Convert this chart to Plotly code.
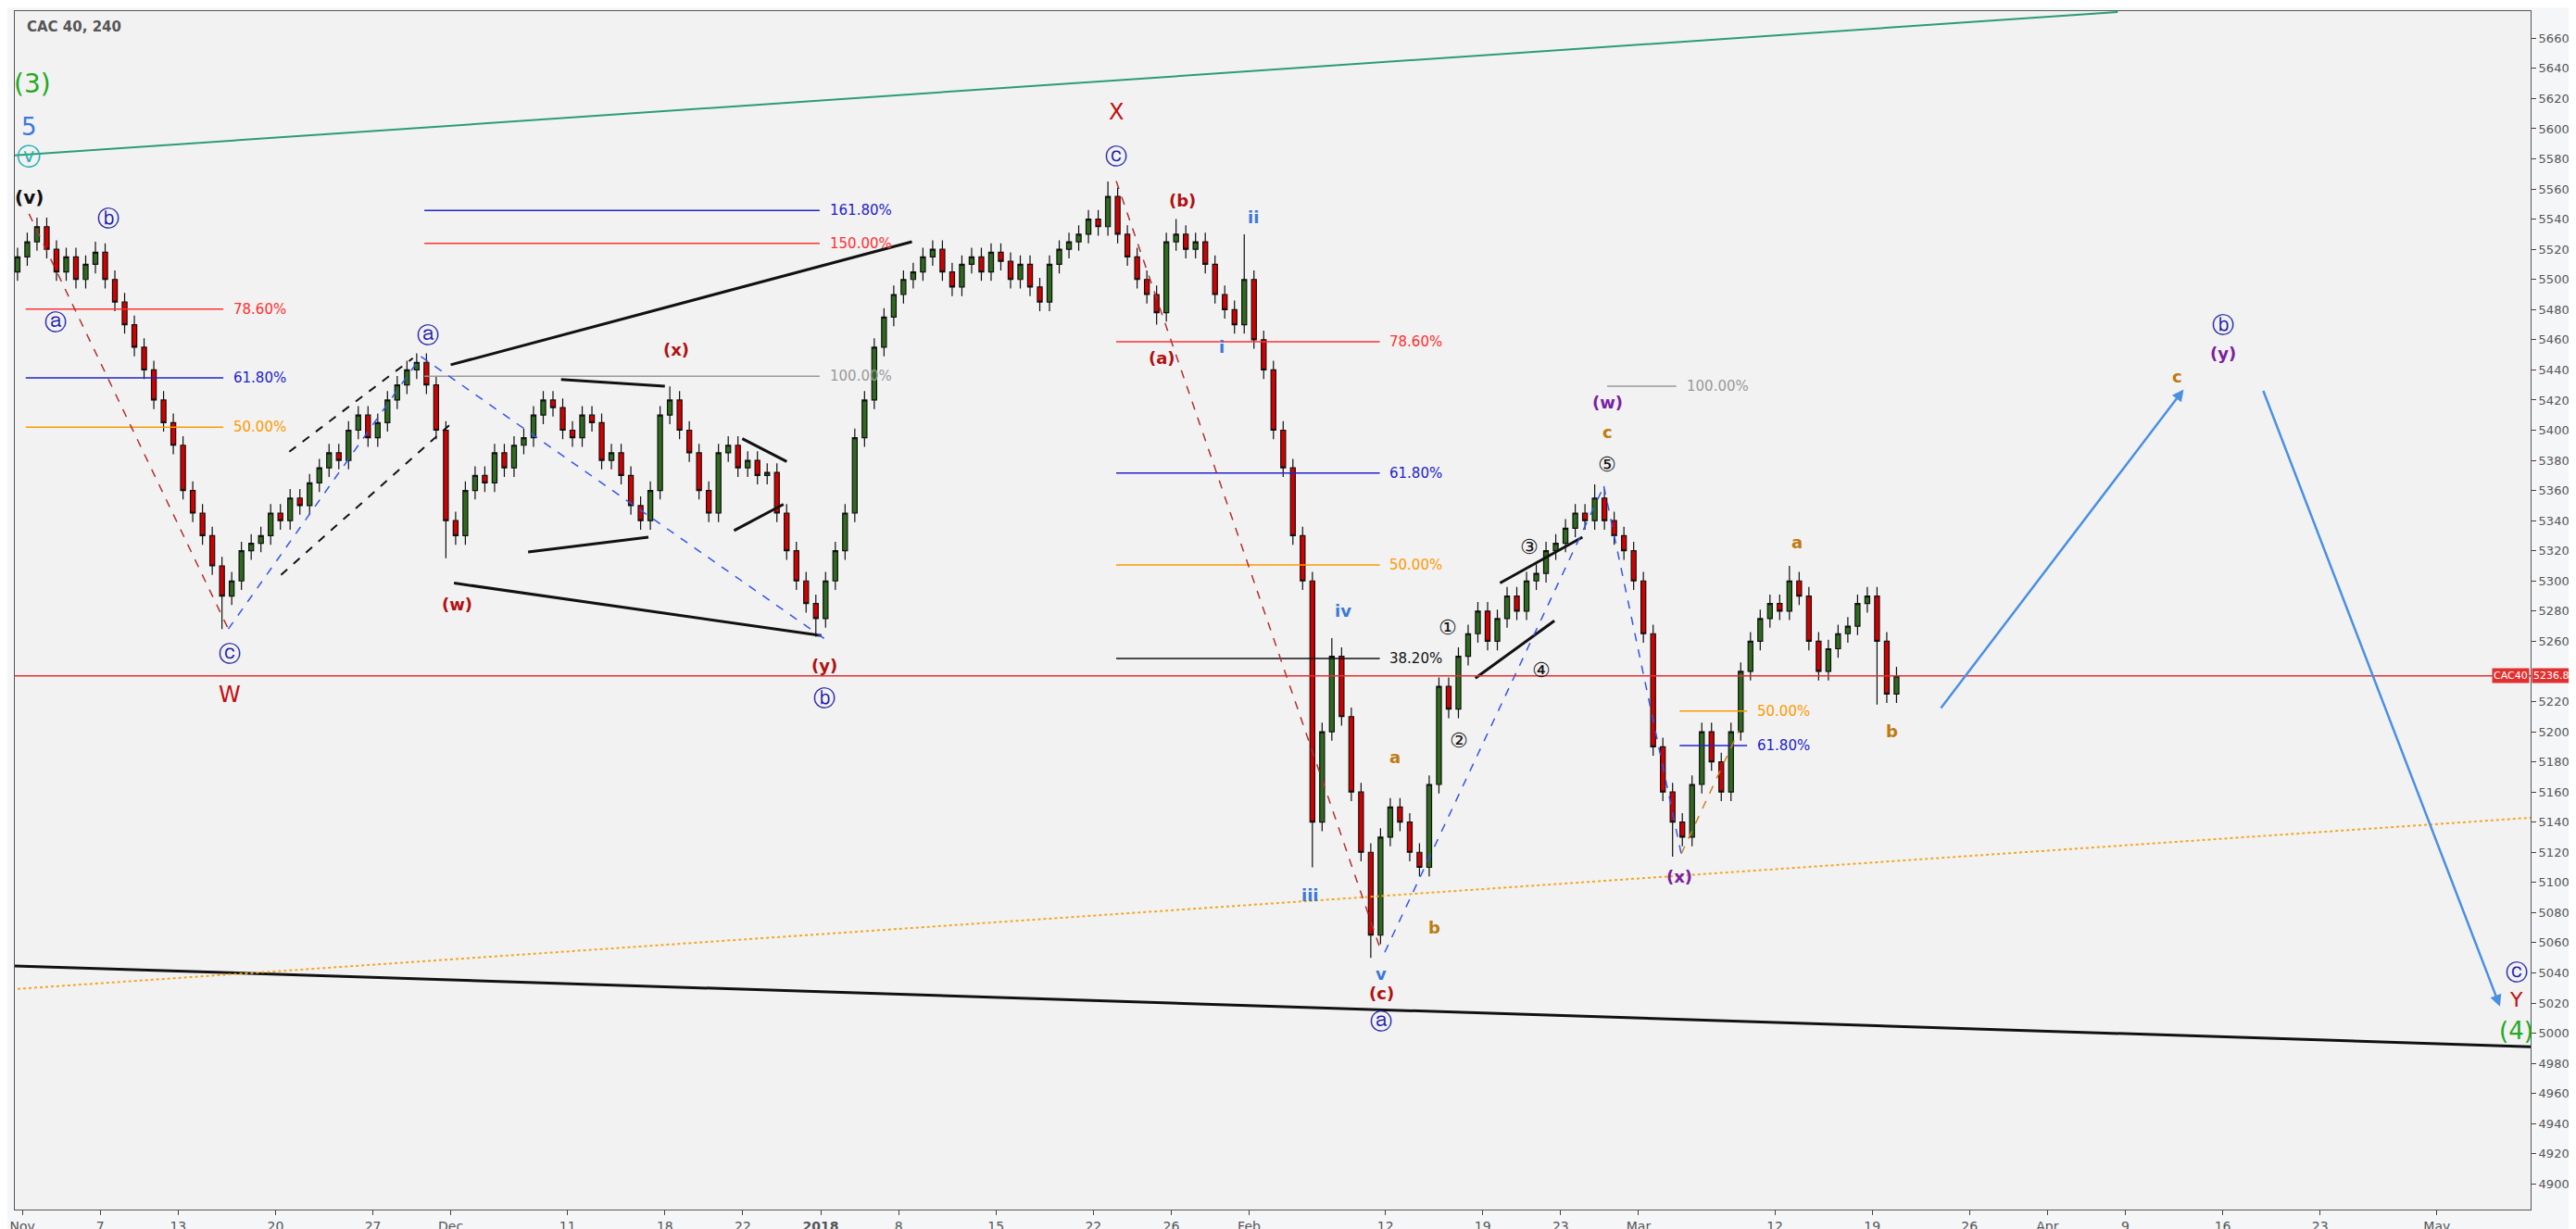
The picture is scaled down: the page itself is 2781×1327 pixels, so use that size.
import pandas as pd
import plotly.graph_objects as go

# closes, two 4h candles per trading day (Nov 1 2017 .. Mar 20 2018)
closes = [
    5515, 5525, 5535, 5520, 5505, 5515, 5500, 5510, 5518, 5500,
    5485, 5470, 5455, 5440, 5420, 5405, 5390, 5360, 5345, 5330,
    5310, 5290, 5300, 5320, 5325, 5330, 5345, 5340, 5355, 5350,
    5365, 5375, 5385, 5380, 5400, 5410, 5395, 5405, 5420, 5430,
    5440, 5445, 5430, 5400, 5340, 5330, 5360, 5370, 5365, 5385,
    5375, 5390, 5395, 5410, 5420, 5415, 5400, 5395, 5410, 5405,
    5380, 5385, 5370, 5350, 5340, 5360, 5410, 5420, 5400, 5385,
    5360, 5345, 5385, 5390, 5375, 5380, 5370, 5372, 5345, 5320,
    5300, 5285, 5275, 5300, 5320, 5345, 5395, 5420, 5455, 5475,
    5490, 5500, 5505, 5515, 5520, 5505, 5495, 5510, 5515, 5505,
    5518, 5512, 5500, 5510, 5495, 5485, 5510, 5520, 5525, 5530,
    5540, 5535, 5555, 5530, 5515, 5500, 5490, 5478, 5525, 5530,
    5520, 5525, 5510, 5490, 5480, 5470, 5500, 5460, 5440, 5400,
    5375, 5330, 5300, 5140, 5200, 5250, 5210, 5160, 5120, 5065,
    5130, 5150, 5140, 5120, 5110, 5165, 5230, 5215, 5250, 5265,
    5280, 5260, 5275, 5290, 5280, 5300, 5305, 5320, 5325, 5335,
    5345, 5340, 5355, 5340, 5330, 5320, 5300, 5265, 5190, 5160,
    5140, 5130, 5165, 5200, 5180, 5160, 5200, 5240, 5260, 5275,
    5285, 5280, 5300, 5290, 5260, 5240, 5255, 5265, 5270, 5285,
    5290, 5260, 5225, 5237,
]
first_open = 5505
# wick extremes (bar index -> price)
spike_highs = {8: 5525, 41: 5451, 67: 5429, 112: 5565, 119: 5540, 126: 5530,
               135: 5262, 162: 5364, 182: 5310}
spike_lows = {21: 5268, 44: 5315, 82: 5263, 117: 5470, 133: 5110, 139: 5050,
              170: 5117, 191: 5218}

holidays = ["2017-12-25", "2017-12-26", "2018-01-01", "2018-03-30", "2018-04-02", "2018-05-01"]
days = [d for d in pd.bdate_range("2017-11-01", "2018-05-31") if d.strftime("%Y-%m-%d") not in holidays]
day_idx = {d.strftime("%Y-%m-%d"): i for i, d in enumerate(days)}

tick_dates = ["2017-11-01", "2017-11-07", "2017-11-13", "2017-11-20", "2017-11-27", "2017-12-01",
              "2017-12-11", "2017-12-18", "2017-12-22", "2018-01-02", "2018-01-08", "2018-01-15",
              "2018-01-22", "2018-01-26", "2018-02-01", "2018-02-12", "2018-02-19", "2018-02-23",
              "2018-03-01", "2018-03-12", "2018-03-19", "2018-03-26", "2018-04-03", "2018-04-09",
              "2018-04-16", "2018-04-23", "2018-05-02"]
tick_text = ["Nov", "7", "13", "20", "27", "Dec", "11", "18", "22", "<b>2018</b>", "8", "15", "22", "26",
             "Feb", "12", "19", "23", "Mar", "12", "19", "26", "Apr", "9", "16", "23", "May"]

# price axis labels; the level under the last-price tag is left out, as in the reference
price_ticks = [p for p in range(4900, 5661, 20) if p != 5240]

opens = [first_open] + closes[:-1]
highs, lows, xs = [], [], []
for i, (o, c) in enumerate(zip(opens, closes)):
    highs.append(spike_highs.get(i, max(o, c) + 6))
    lows.append(spike_lows.get(i, min(o, c) - 6))
    xs.append(i // 2 - 0.25 + 0.5 * (i % 2))


# helpers: positions read in the reference thumbnail -> chart coordinates
def dx(xt):
    return (xt - 8) / 11.82


def py(yt):
    return 5660 - (yt - 18) * 1.0886


fig = go.Figure()
fig.add_trace(go.Candlestick(
    x=xs, open=opens, high=highs, low=lows, close=closes,
    increasing=dict(fillcolor="#2f6b1e", line=dict(color="#111111", width=1.2)),
    decreasing=dict(fillcolor="#d40000", line=dict(color="#111111", width=1.2)),
    whiskerwidth=0, showlegend=False, hoverinfo="skip"))


def seg(x0, y0, x1, y1, color, width=2, dash="solid"):
    fig.add_shape(type="line", x0=dx(x0), y0=py(y0), x1=dx(x1), y1=py(y1),
                  line=dict(color=color, width=width, dash=dash))


def txt(xt, yt, s, color, size=20, bold=False):
    fig.add_annotation(x=dx(xt), y=py(yt), text=f"<b>{s}</b>" if bold else s, showarrow=False,
                       font=dict(color=color, size=size, family="DejaVu Sans"))


# trendlines
seg(-5, 90, 1280, 2, "#2a9d74", 2)
seg(-5, 583, 1545, 633, "#111111", 3)
seg(-5, 598, 1545, 492, "#f5a623", 2, "dot")

# fib levels: (x0, x1, yt, label, color)
fibs = [
    (10, 130, 183, "78.60%", "#ff3030"), (10, 130, 225, "61.80%", "#2222cc"), (10, 130, 255, "50.00%", "#ff9900"),
    (252, 492, 123, "161.80%", "#2222cc"), (252, 492, 143, "150.00%", "#ff3030"), (252, 492, 224, "100.00%", "#999999"),
    (672, 832, 203, "78.60%", "#ff3030"), (672, 832, 283, "61.80%", "#2222cc"), (672, 832, 339, "50.00%", "#ff9900"),
    (672, 832, 396, "38.20%", "#111111"),
    (970, 1012, 230, "100.00%", "#999999"), (1014, 1055, 428, "50.00%", "#ff9900"), (1014, 1055, 449, "61.80%", "#2222cc"),
]
for x0, x1, yt, lab, col in fibs:
    seg(x0, yt, x1, yt, col, 1.5)
    fig.add_annotation(x=dx(x1 + 5), y=py(yt), text=lab, showarrow=False, xanchor="left",
                       font=dict(color=col, size=15, family="DejaVu Sans"))

# wave drawings
black = "#111111"
seg(170, 270, 245, 213, black, 2, "dash")
seg(165, 345, 268, 253, black, 2, "dash")
seg(268, 217, 548, 142, black, 3)
seg(270, 350, 493, 382, black, 3)
seg(335, 226, 398, 230, black, 3)
seg(315, 331, 388, 322, black, 3)
seg(445, 262, 472, 276, black, 3)
seg(440, 318, 470, 302, black, 3)
seg(905, 350, 955, 322, black, 3)
seg(890, 408, 938, 373, black, 3)
seg(133, 378, 250, 212, "#3355ee", 1.5, "dash")
seg(250, 212, 495, 384, "#3355ee", 1.5, "dash")
seg(835, 575, 968, 291, "#3355ee", 1.5, "dash")
seg(968, 291, 1015, 515, "#3355ee", 1.5, "dash")
seg(12, 125, 133, 378, "#b03030", 1.5, "dash")
seg(672, 105, 833, 575, "#b03030", 1.5, "dash")
seg(1015, 515, 1050, 440, "#d08020", 1.5, "dash")

for x0, y0, x1, y1 in [(1172, 427, 1320, 232), (1368, 232, 1512, 608)]:
    fig.add_annotation(x=dx(x1), y=py(y1), ax=dx(x0), ay=py(y0), xref="x", yref="y", axref="x", ayref="y",
                       showarrow=True, arrowhead=2, arrowsize=1, arrowwidth=2.5, arrowcolor="#4a90e2", text="")

# last price line
fig.add_hline(y=closes[-1], line=dict(color="#e03030", width=1.5))
fig.add_annotation(x=1, xref="paper", y=closes[-1], text="5236.8", showarrow=False, xanchor="left",
                   bgcolor="#e03030", font=dict(color="white", size=11), xshift=1)
fig.add_annotation(x=1, xref="paper", y=closes[-1], text="CAC40", showarrow=False, xanchor="right",
                   bgcolor="#e03030", font=dict(color="white", size=11), xshift=-1)

navy, dred, purple, brown, blue = "#1a1aa8", "#b01010", "#7a1fa2", "#c07a10", "#3d78d8"
labels = [
    (14, 46, "(3)", "#22aa22", 28, False), (12, 72, "5", blue, 26, False), (12, 90, "ⓥ", "#20b0b0", 26, False),
    (12, 115, "(v)", black, 20, True), (28, 191, "ⓐ", navy, 24, False), (60, 128, "ⓑ", navy, 24, False),
    (134, 393, "ⓒ", navy, 24, False), (134, 418, "W", "#c01010", 24, False), (254, 199, "ⓐ", navy, 24, False),
    (272, 363, "(w)", dred, 18, True), (405, 208, "(x)", dred, 18, True), (495, 400, "(y)", dred, 18, True),
    (495, 420, "ⓑ", navy, 24, False), (672, 63, "X", "#c01010", 24, False), (672, 90, "ⓒ", navy, 24, False),
    (712, 117, "(b)", dred, 18, True), (700, 213, "(a)", dred, 18, True), (755, 127, "ii", blue, 18, True),
    (736, 206, "i", blue, 18, True), (810, 367, "iv", blue, 18, True), (790, 540, "iii", blue, 18, True),
    (833, 588, "v", blue, 18, True), (833, 600, "(c)", dred, 18, True), (833, 617, "ⓐ", navy, 24, False),
    (841, 456, "a", brown, 18, True), (865, 560, "b", brown, 18, True),
    (873, 377, "①", black, 22, False), (880, 446, "②", black, 22, False), (923, 328, "③", black, 22, False),
    (930, 403, "④", black, 22, False), (970, 278, "⑤", black, 22, False), (970, 258, "c", brown, 18, True),
    (970, 240, "(w)", purple, 18, True), (1014, 529, "(x)", purple, 18, True), (1085, 325, "a", brown, 18, True),
    (1143, 440, "b", brown, 18, True), (1344, 193, "ⓑ", navy, 24, False), (1344, 210, "(y)", purple, 18, True),
    (1316, 224, "c", brown, 18, True), (1522, 587, "ⓒ", navy, 24, False), (1522, 604, "Y", "#c01010", 22, False),
    (1522, 623, "(4)", "#22aa22", 26, False),
]
for xt, yt, s, col, size, bold in labels:
    txt(xt, yt, s, col, size, bold)

fig.add_annotation(x=0.004, y=0.995, xref="paper", yref="paper", text="<b>CAC 40, 240</b>", showarrow=False,
                   xanchor="left", yanchor="top", font=dict(color="#555555", size=15))

fig.update_layout(
    width=2781, height=1327, margin=dict(l=6, r=52, t=3, b=24),
    paper_bgcolor="#f4f6f8", plot_bgcolor="#f2f2f2",
    font=dict(family="DejaVu Sans", color="#555555"),
    xaxis=dict(range=[dx(3.4), dx(1530.6)], rangeslider=dict(visible=False), showgrid=False,
               tickvals=[day_idx[d] for d in tick_dates], ticktext=tick_text, ticks="outside",
               ticklen=5, tickfont=dict(size=14), showline=True, linecolor="#555555", mirror=True, zeroline=False),
    yaxis=dict(range=[4883, 5678], side="right", tickvals=price_ticks, ticktext=[f"{p:.1f}" for p in price_ticks],
               showgrid=False, ticks="outside",
               ticklen=5, tickfont=dict(size=13), showline=True, linecolor="#555555", mirror=True, zeroline=False),
)

fig.write_html("out.html")
